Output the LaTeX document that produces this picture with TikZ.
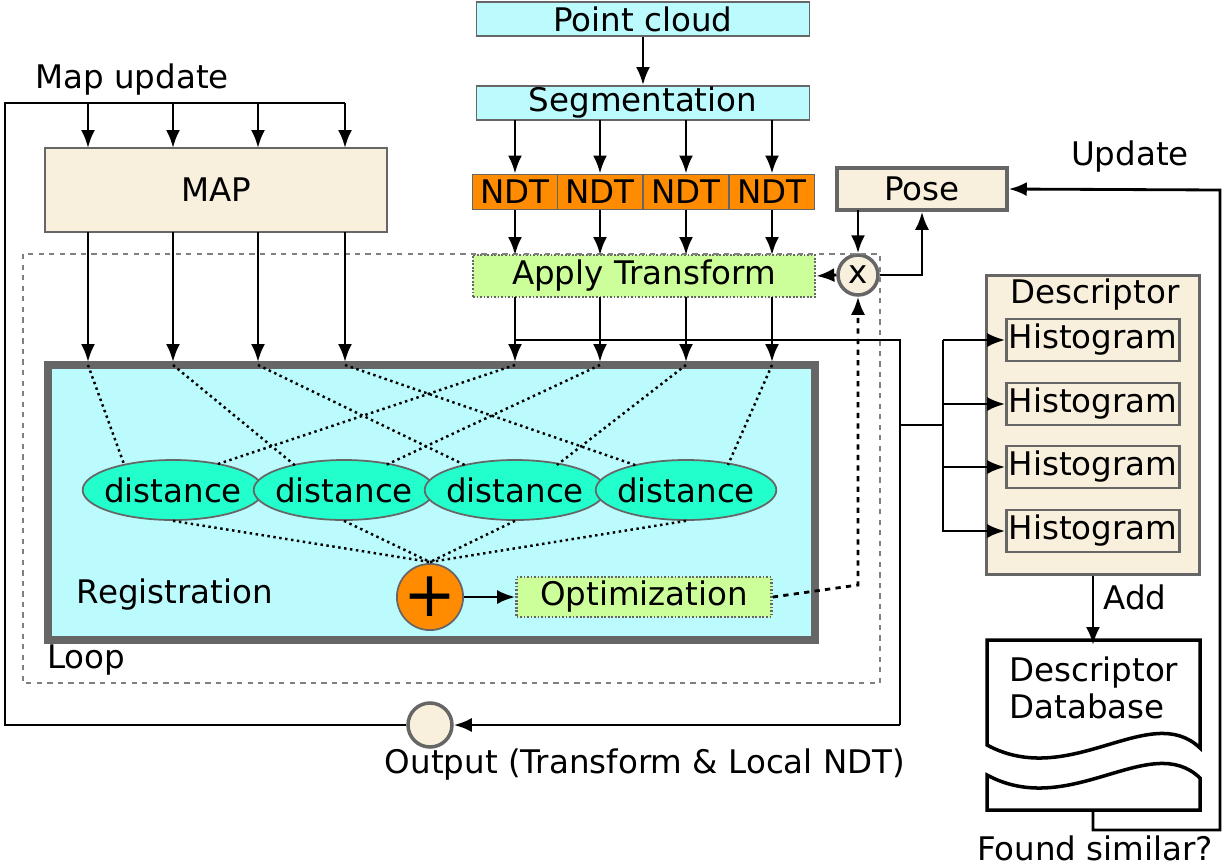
\documentclass[tikz,border=0pt]{standalone}
\usepackage{fontspec}
\setmainfont{DejaVu Sans}
\usetikzlibrary{shapes, arrows, arrows.meta, calc, positioning}
\definecolor{cloud}{HTML}{BBFBFD}
\definecolor{beige}{HTML}{F8EFDC}
\definecolor{ndt}{HTML}{FF8C00}
\definecolor{lgreen}{HTML}{CCFF99}
\definecolor{dist}{HTML}{22FFCC}
\begin{document}
\begin{tikzpicture}[x=0.02cm, y=-0.02cm, >={Latex[length=0.36cm,width=0.28cm]}, line width=1.6pt,
    every node/.style={font=\fontsize{18.5}{21}\selectfont}]
    \tikzstyle{box} = [draw=gray!80!black, line width=1pt, inner sep=0pt]
    \tikzstyle{dbox} = [box, densely dotted, line width=1.5pt, fill=lgreen]
    \tikzstyle{arr} = [->, line width=1.6pt]
    \tikzstyle{dot} = [dotted, line width=1.4pt]

    \useasboundingbox (0,0) rectangle (1224,866);

    % input chain
    \node[box, fill=cloud, minimum width=333*0.02cm, minimum height=34*0.02cm] (pc) at (643,19) {Point cloud};
    \node[box, fill=cloud, minimum width=333*0.02cm, minimum height=34*0.02cm] (seg) at (643,103) {Segmentation};
    \foreach \i/\x in {1/515,2/600,3/686,4/772} {
        \node[box, fill=ndt, minimum width=85*0.02cm, minimum height=35*0.02cm] (ndt\i) at (\x,192) {NDT};
    }
    \node[dbox, minimum width=342*0.02cm, minimum height=42*0.02cm] (apply) at (644,276) {Apply Transform};
    \node[box, fill=beige, line width=2pt, minimum width=170*0.02cm, minimum height=42*0.02cm] (pose) at (922,189) {Pose};
    \node[box, circle, fill=beige, line width=2pt, minimum size=40*0.02cm] (mul) at (858,275) {x};
    \node[box, fill=beige, line width=1.5pt, minimum width=342*0.02cm, minimum height=84*0.02cm] (map) at (216,190) {MAP};

    % loop frame and registration
    \draw[gray, dashed, line width=1.2pt] (23,254) rectangle (880,683);
    \node[anchor=north west, inner sep=0pt] (loop) at (46,643) {Loop};
    \draw[gray!80!black, fill=cloud, line width=4pt] (48,365) rectangle (815,640);
    \node (reg) at (175,595) {Registration};
    \foreach \i/\x in {1/173,2/344,3/515,4/686} {
        \node[box, ellipse, fill=dist, inner xsep=-0.1cm, minimum width=164*0.02cm, minimum height=60*0.02cm] (d\i) at (\x,490) {distance};
    }
    \node[box, circle, fill=ndt, minimum size=62*0.02cm, font=\fontsize{36}{36}\selectfont] (plus) at (430,597) {+};
    \node[dbox, minimum width=255*0.02cm, minimum height=40*0.02cm] (opt) at (644,597) {Optimization};
    \coordinate (sum) at (430,562);

    % map update
    \node (mu) at (132,80) {Map update};
    \node[box, circle, fill=beige, line width=2pt, minimum size=44*0.02cm] (out) at (430,725) {};
    \node (outlbl) at (645,765) {Output (Transform \& Local NDT)};
    \draw (out.west) -- (5,725) -- (5,103) -- (345,103);
    \foreach \i/\x in {1/88,2/173,3/258,4/345} {
        \draw[arr] (\x,103) -- (\x,148);
        \draw[arr] (\x,232) -- (\x,362);
        \coordinate (m\i) at (\x,365);
    }
    \foreach \i/\x in {1/515,2/600,3/686,4/772} {
        \draw[arr] (\x,120) -- (ndt\i.north);
        \draw[arr] (ndt\i.south) -- (\x,255);
        \draw[arr] (\x,297) -- (\x,362);
        \coordinate (n\i) at (\x,365);
    }
    \draw[arr] (pc) -- (seg);

    % dotted links
    \foreach \i in {1,2,3,4} {
        \draw[dot] (m\i) -- ($(d\i.north west)!0.25!(d\i.north)$);
        \draw[dot] (n\i) -- ($(d\i.north east)!0.35!(d\i.north)$);
        \draw[dot] (d\i.south) -- (sum);
    }
    \draw[arr] (plus) -- (opt);

    % pose loop
    \draw[arr] (858,210) -- (mul.north);
    \draw[arr] (mul.east) -- (922,275) -- (pose.south);
    \draw[arr] (mul.west) -- (apply.east);
    \draw[arr, dashed] (opt.east) -- (858,585) -- (mul.south);

    % output line
    \draw (515,340) -- (900,340) -- (900,725);
    \draw[arr] (900,725) -- (out.east);

    % descriptor
    \node[box, fill=beige, line width=1.5pt, minimum width=213*0.02cm, minimum height=299*0.02cm] (desc) at (1093,425) {};
    \node (desclbl) at (1095,295) {Descriptor};
    \draw (900,425) -- (943,425);
    \draw (943,340) -- (943,532);
    \foreach \i/\y in {1/340,2/404,3/467,4/531} {
        \node[box, fill=beige, line width=1.5pt, minimum width=173*0.02cm, minimum height=42*0.02cm] (h\i) at (1093,\y) {Histogram};
        \draw[arr] (943,\y) -- (h\i.west);
    }

    % database
    \draw[fill=white, line width=2pt] (987,640) -- (1200,640) -- (1200,748)
        .. controls (1150,700) and (1070,790) .. (987,745) -- cycle;
    \draw[fill=white, line width=2pt] (987,775)
        .. controls (1070,820) and (1150,730) .. (1200,778) -- (1200,810) -- (987,810) -- cycle;
    \node[align=left, anchor=north west, inner sep=0pt] (db) at (1008,655) {Descriptor\\Database};
    \draw[arr] (desc.south) -- (1093,645);
    \node (add) at (1135,597) {Add};
    \node (found) at (1095,848) {Found similar?};
    \draw[arr] (1093,810) -- (1093,830) -- (1220,830) -- (1220,190) -- (pose.east);
    \node (upd) at (1130,157) {Update};
\end{tikzpicture}
\end{document}
